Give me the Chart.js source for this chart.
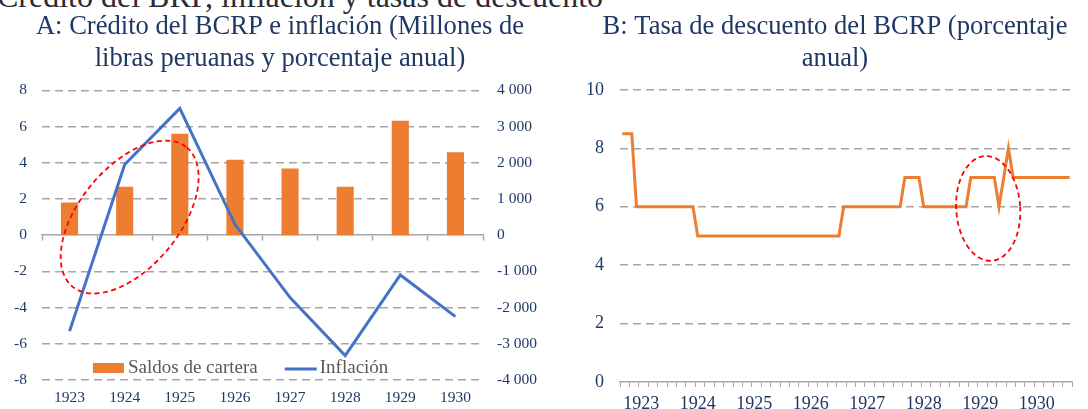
<!DOCTYPE html>
<html lang="es">
<head>
<meta charset="utf-8">
<title>Crédito del BCRP, inflación y tasas de descuento</title>
<script src="https://cdn.jsdelivr.net/npm/chart.js@4.4.1/dist/chart.umd.min.js"></script>
<style>
  body { margin: 0; background: #fff; width: 1088px; height: 409px; overflow: hidden; position: relative; }
  .top-title { position: absolute; left: -3px; top: -19px; font: 32px/31px "Liberation Serif", serif; color: #2b2b36; white-space: nowrap; }
  #chartA { position: absolute; left: 0; top: 0; }
  #chartB { position: absolute; left: 570px; top: 0; }
</style>
</head>
<body>
<div class="top-title">Crédito del BRP, inflación y tasas de descuento</div>
<canvas id="chartA" width="560" height="409"></canvas>
<canvas id="chartB" width="530" height="409"></canvas>
<script>
// --- panel A: credit balances (right axis) and inflation (left axis)
const years = ["1923", "1924", "1925", "1926", "1927", "1928", "1929", "1930"];
const saldosCartera = [900, 1340, 2800, 2080, 1840, 1340, 3160, 2290];
const inflacion = [-5.3, 3.9, 7.0, 0.6, -3.45, -6.65, -2.2, -4.5];

// --- panel B: monthly discount rate
const monthNames = ["ene", "feb", "mar", "abr", "may", "jun", "jul", "ago", "sep", "oct", "nov", "dic"];
const months = years.flatMap(y => monthNames.map(m => m + "-" + y));
const tasaDescuento = [
  8.5, 8.5, 8.5, 6, 6, 6, 6, 6, 6, 6, 6, 6,   // 1923
  6, 6, 6, 6, 5, 5, 5, 5, 5, 5, 5, 5,         // 1924
  5, 5, 5, 5, 5, 5, 5, 5, 5, 5, 5, 5,         // 1925
  5, 5, 5, 5, 5, 5, 5, 5, 5, 5, 5, 6,         // 1926
  6, 6, 6, 6, 6, 6, 6, 6, 6, 6, 6, 6,         // 1927
  7, 7, 7, 7, 6, 6, 6, 6, 6, 6, 6, 6,         // 1928
  6, 6, 7, 7, 7, 7, 7, 7, 6, 7, 8, 7,         // 1929
  7, 7, 7, 7, 7, 7, 7, 7, 7, 7, 7, 7          // 1930
];

const serif = "'Liberation Serif', 'Times New Roman', serif";
const navy = "#1F3864";
const gridGray = "#A6A6A6";
const orange = "#ED7D31";
const blue = "#4472C4";

// dashed red ellipse used as a highlight
const redEllipse = {
  id: "redEllipse",
  afterDatasetsDraw(chart, args, opts) {
    const ctx = chart.ctx;
    const cx = chart.scales.x.getPixelForValue(opts.x);
    const cy = chart.scales[opts.yAxis].getPixelForValue(opts.y);
    ctx.save();
    ctx.strokeStyle = "#FF0000";
    ctx.lineWidth = 1.8;
    ctx.setLineDash([5, 3.5]);
    ctx.beginPath();
    ctx.ellipse(cx, cy, opts.rx, opts.ry, opts.rotation, 0, Math.PI * 2);
    ctx.stroke();
    ctx.restore();
  }
};

// legend drawn inside the plot, near the bottom
const insideLegend = {
  id: "insideLegend",
  afterDatasetsDraw(chart, args, opts) {
    const ctx = chart.ctx;
    const area = chart.chartArea;
    const y = area.bottom - 12;
    let x = area.left + 51;
    ctx.save();
    ctx.font = "19px " + serif;
    ctx.textBaseline = "middle";
    chart.data.datasets.forEach(ds => {
      if (ds.type === "line") {
        ctx.strokeStyle = ds.borderColor;
        ctx.lineWidth = 3;
        ctx.beginPath();
        ctx.moveTo(x, y + 1);
        ctx.lineTo(x + 32, y + 1);
        ctx.stroke();
        x += 35;
      } else {
        ctx.fillStyle = ds.backgroundColor;
        ctx.fillRect(x, y - 5, 31, 10);
        x += 35;
      }
      ctx.fillStyle = "#595959";
      ctx.fillText(ds.label, x, y);
      x += ctx.measureText(ds.label).width + 27;
    });
    ctx.restore();
  }
};

const titleFont = { family: serif, size: 26.6, weight: "normal", lineHeight: 1.2 };

new Chart(document.getElementById("chartA"), {
  type: "bar",
  data: {
    labels: years,
    datasets: [
      {
        label: "Saldos de cartera",
        data: saldosCartera,
        backgroundColor: orange,
        yAxisID: "y2",
        barPercentage: 0.31,
        categoryPercentage: 1,
        order: 1
      },
      {
        type: "line",
        label: "Inflación",
        data: inflacion,
        borderColor: blue,
        borderWidth: 3,
        pointRadius: 0,
        tension: 0,
        yAxisID: "y",
        order: 0
      }
    ]
  },
  options: {
    responsive: false,
    animation: false,
    layout: { padding: 0 },
    plugins: {
      legend: { display: false },
      tooltip: { enabled: false },
      title: {
        display: true,
        text: ["A: Crédito del BCRP e inflación (Millones de", "libras peruanas y porcentaje anual)"],
        color: navy,
        font: titleFont,
        padding: { top: 11, bottom: 15.5 }
      },
      redEllipse: { x: 1.09, y: 1.0, yAxis: "y", rx: 90, ry: 50, rotation: -0.883 }
    },
    scales: {
      x: {
        offset: true,
        grid: { display: false, drawTicks: false },
        border: { display: false },
        ticks: { color: navy, font: { family: serif, size: 15.5 }, padding: 9 },
        afterFit: s => { s.height = 29; }
      },
      x2: {
        type: "category",
        axis: "x",
        position: { y: 0 },
        offset: true,
        grid: { offset: true, drawOnChartArea: false, drawTicks: true, tickLength: 5, tickColor: gridGray, tickWidth: 1.5 },
        border: { display: true, color: gridGray, width: 1.5 },
        ticks: { display: false }
      },
      y: {
        position: "left",
        min: -8,
        max: 8,
        ticks: { stepSize: 2, color: navy, font: { family: serif, size: 15.5 }, padding: 15 },
        grid: {
          color: c => (c.tick && c.tick.value === 0) ? "rgba(0,0,0,0)" : gridGray,
          lineWidth: 1.5,
          drawTicks: false
        },
        border: { display: false, dash: [8, 5] },
        afterFit: s => { s.width = 42; }
      },
      y2: {
        position: "right",
        min: -4000,
        max: 4000,
        ticks: {
          stepSize: 1000,
          color: navy,
          font: { family: serif, size: 15.5 },
          padding: 14,
          callback: v => (v < 0 ? "-" : "") + String(Math.abs(v)).replace(/\B(?=(\d{3})+(?!\d))/g, " ")
        },
        grid: { display: false, drawTicks: false },
        border: { display: false },
        afterFit: s => { s.width = 77; }
      }
    }
  },
  plugins: [redEllipse, insideLegend]
});

new Chart(document.getElementById("chartB"), {
  type: "line",
  data: {
    labels: months,
    datasets: [
      {
        label: "Tasa de descuento",
        data: tasaDescuento,
        borderColor: orange,
        borderWidth: 3,
        pointRadius: 0,
        tension: 0
      }
    ]
  },
  options: {
    responsive: false,
    animation: false,
    layout: { padding: 0 },
    plugins: {
      legend: { display: false },
      tooltip: { enabled: false },
      title: {
        display: true,
        text: ["B: Tasa de descuento del BCRP (porcentaje", "anual)"],
        color: navy,
        font: titleFont,
        padding: { top: 11, bottom: 15 }
      },
      redEllipse: { x: 77.7, y: 5.94, yAxis: "y", rx: 32, ry: 52.5, rotation: -0.063 }
    },
    scales: {
      x: {
        offset: true,
        grid: {
          offset: true,
          drawOnChartArea: false,
          drawTicks: true,
          tickLength: 5,
          tickWidth: 1,
          tickColor: c => (c.index === undefined || c.index % 2 === 0) ? gridGray : "rgba(0,0,0,0)"
        },
        border: { display: true, color: gridGray, width: 1.5 },
        ticks: {
          autoSkip: false,
          maxRotation: 0,
          minRotation: 0,
          color: navy,
          font: { family: serif, size: 18 },
          padding: 6,
          callback: (v, i) => (i % 12 === 4 ? years[Math.floor(i / 12)] : "")
        },
        afterFit: s => { s.height = 27; }
      },
      y: {
        min: 0,
        max: 10,
        ticks: { stepSize: 2, color: navy, font: { family: serif, size: 18 }, padding: 16 },
        grid: {
          color: c => (c.tick && c.tick.value === 0) ? "rgba(0,0,0,0)" : gridGray,
          lineWidth: 1.5,
          drawTicks: false
        },
        border: { display: false, dash: [8, 5] },
        afterFit: s => { s.width = 50; }
      },
      // empty right-hand spacer so the title sits where the original one does
      yPad: {
        position: "right",
        ticks: { display: false },
        grid: { display: false, drawTicks: false },
        border: { display: false },
        afterFit: s => { s.width = 28; }
      }
    }
  },
  plugins: [redEllipse]
});
</script>
</body>
</html>
